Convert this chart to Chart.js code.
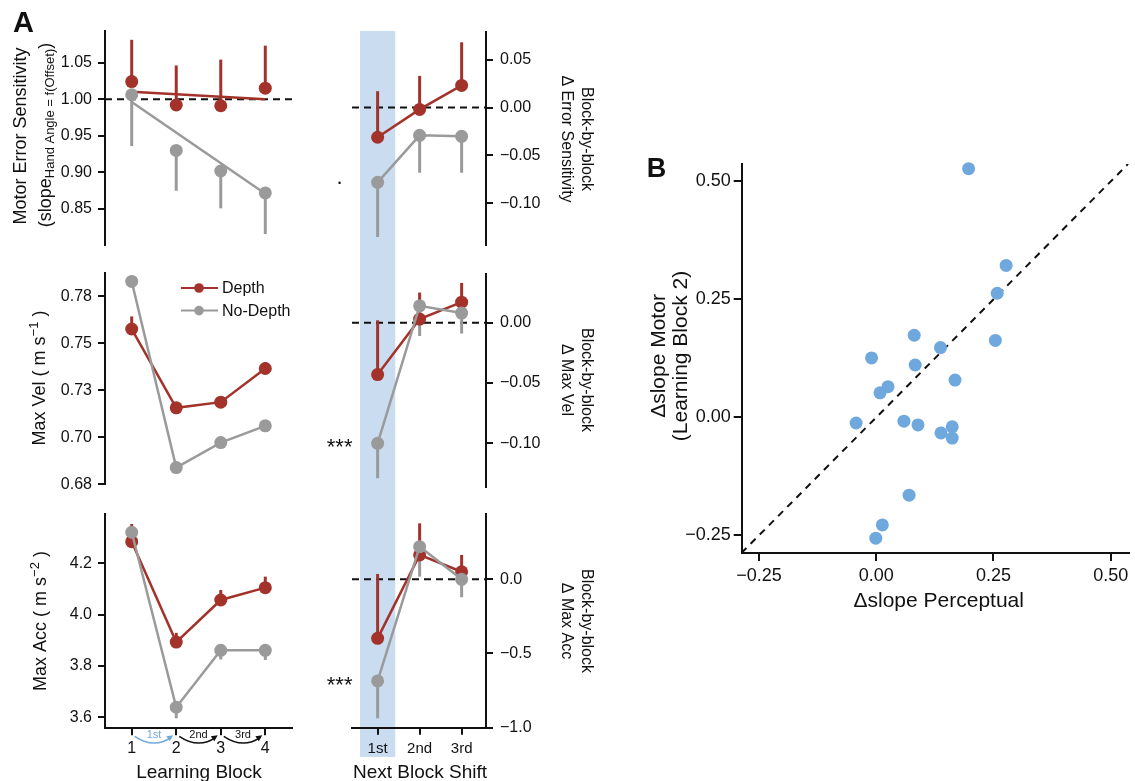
<!DOCTYPE html>
<html>
<head>
<meta charset="utf-8">
<script src="https://cdn.jsdelivr.net/npm/chart.js@4.4.0/dist/chart.umd.min.js"></script>
<style>
  html, body { margin: 0; padding: 0; background: #fff; }
  #wrap { position: relative; width: 1135px; height: 781px; overflow: hidden; }
  #wrap canvas { position: absolute; left: 0; top: 0; }
</style>
</head>
<body>
<div id="wrap"></div>
<script>
// ---- data ----
const blocks = [1, 2, 3, 4];
const shifts = [1, 2, 3];
const blockLabels = ['1', '2', '3', '4'];
const shiftLabels = ['1st', '2nd', '3rd'];
const arrowLabels = ['1st', '2nd', '3rd'];

// motor error sensitivity per learning block
const esDepth = [1.024, 0.992, 0.991, 1.015];
const esDepthHi = [1.081, 1.046, 1.054, 1.073];
const esNoDepth = [1.006, 0.930, 0.902, 0.872];
const esNoDepthLo = [0.936, 0.875, 0.851, 0.816];
const esFitBlocks = [1, 4];
const esFitDepth = [1.010, 1.000];
const esFitNoDepth = [0.996, 0.871];
const esTicks = [0.85, 0.90, 0.95, 1.00, 1.05];
const esTickLabels = ['0.85', '0.90', '0.95', '1.00', '1.05'];

// max velocity
const velDepth = [0.7576, 0.7157, 0.7187, 0.7366];
const velDepthHi = [0.7643, 0.7185, 0.7205, 0.7400];
const velNoDepth = [0.7829, 0.6839, 0.6972, 0.7061];
const velNoDepthLo = [0.7815, 0.6827, 0.6962, 0.7052];
const velTicks = [0.675, 0.700, 0.725, 0.750, 0.775];
const velTickLabels = ['0.68', '0.70', '0.73', '0.75', '0.78'];

// max acceleration
const accDepth = [4.284, 3.893, 4.057, 4.105];
const accDepthHi = [4.353, 3.929, 4.096, 4.148];
const accNoDepth = [4.321, 3.639, 3.861, 3.861];
const accNoDepthLo = [4.300, 3.596, 3.825, 3.823];
const accTicks = [3.6, 3.8, 4.0, 4.2];
const accTickLabels = ['3.6', '3.8', '4.0', '4.2'];

// block-by-block changes
const dEsDepth = [-0.031, -0.002, 0.023];
const dEsDepthHi = [0.017, 0.033, 0.068];
const dEsNoDepth = [-0.078, -0.029, -0.030];
const dEsNoDepthLo = [-0.135, -0.068, -0.068];
const dEsTicks = [-0.10, -0.05, 0.00, 0.05];
const dEsTickLabels = ['\u22120.10', '\u22120.05', '0.00', '0.05'];
const dEsSig = ['.', '', ''];

const dVelDepth = [-0.043, 0.003, 0.017];
const dVelDepthHi = [0.002, 0.025, 0.033];
const dVelNoDepth = [-0.100, 0.014, 0.008];
const dVelNoDepthLo = [-0.129, -0.011, -0.009];
const dVelTicks = [-0.10, -0.05, 0.00];
const dVelTickLabels = ['\u22120.10', '\u22120.05', '0.00'];
const dVelSig = ['***', '', ''];

const dAccDepth = [-0.398, 0.164, 0.051];
const dAccDepthHi = [0.036, 0.377, 0.164];
const dAccNoDepth = [-0.685, 0.220, 0.000];
const dAccNoDepthLo = [-0.937, 0.018, -0.121];
const dAccTicks = [-1.0, -0.5, 0.0];
const dAccTickLabels = ['\u22121.0', '\u22120.5', '0.0'];
const dAccSig = ['***', '', ''];

// panel B: per-participant slopes
const percSlope = [0.197, 0.277, 0.258, 0.254, 0.081, 0.137, -0.010, 0.083, 0.168, 0.025,
                   0.008, -0.043, 0.059, 0.089, 0.138, 0.162, 0.162, 0.070, 0.013, -0.001];
const motorSlope = [0.527, 0.322, 0.263, 0.163, 0.174, 0.148, 0.126, 0.111, 0.079, 0.065,
                    0.052, -0.012, -0.008, -0.016, -0.033, -0.020, -0.044, -0.165, -0.228, -0.256];
const bTicks = [-0.25, 0.00, 0.25, 0.50];
const bTickLabels = ['\u22120.25', '0.00', '0.25', '0.50'];

// ---- style ----
const W = 1135, H = 781;
const FONT = "'Liberation Sans', Arial, Helvetica, sans-serif";
const RED = '#a3322b', GRAY = '#9a9a9a', BLUE = '#6fa8dc', BAND = '#c9dcf0', INK = '#111';
const BAND_BOTTOM = 757;
const YBOX = 64, XBOX = 36;   // fixed axis box sizes (tick labels are clipped to them)
Chart.defaults.font.family = FONT;
Chart.defaults.color = INK;

const wrap = document.getElementById('wrap');

// padding so that the plot area lands exactly on `a`
function pad(a, scales) {
  const p = { left: a.l, top: a.t, right: W - a.r, bottom: H - a.b };
  Object.values(scales).forEach(s => {
    if (s.display === false) return;
    if (s.position === 'right') p.right -= YBOX;
    else if (s.position === 'left') p.left -= YBOX;
    else p.bottom -= XBOX;
  });
  return p;
}

function axis(o) {
  return {
    type: 'linear', min: o.min, max: o.max, display: o.display !== false,
    position: o.position || 'bottom',
    afterFit: s => {
      if (!s.options.display) return;
      if (s.isHorizontal()) s.height = XBOX; else s.width = YBOX;
    },
    afterBuildTicks: s => { s.ticks = o.ticks.map(v => ({ value: v })); },
    ticks: { autoSkip: false, maxRotation: 0, padding: o.pad, font: { size: o.size }, color: INK,
             callback: (v, i) => o.labels[i] },
    grid: { drawOnChartArea: false, drawTicks: true, tickLength: o.tl || 7, color: INK, lineWidth: 2 },
    border: { display: true, color: INK, width: 2 }
  };
}

function series(xs, ys, color, extra) {
  return Object.assign({
    data: xs.map((x, i) => ({ x: x, y: ys[i] })),
    borderColor: color, backgroundColor: color, pointBackgroundColor: color,
    pointBorderWidth: 0, pointRadius: 6.5, pointHoverRadius: 6.5, borderWidth: 2.5,
    showLine: true, clip: false
  }, extra);
}

// ---- plugins ----
const errorBars = {
  id: 'errorBars',
  beforeDatasetsDraw(chart) {
    const ctx = chart.ctx, ys = chart.scales.y;
    chart.data.datasets.forEach((ds, di) => {
      if (!ds.errEnd) return;
      const meta = chart.getDatasetMeta(di);
      ctx.save();
      ctx.strokeStyle = ds.borderColor;
      ctx.lineWidth = 3;
      meta.data.forEach((pt, i) => {
        ctx.beginPath();
        ctx.moveTo(pt.x, pt.y);
        ctx.lineTo(pt.x, ys.getPixelForValue(ds.errEnd[i]));
        ctx.stroke();
      });
      ctx.restore();
    });
  }
};

function refLine(value) {
  return {
    id: 'refLine',
    beforeDatasetsDraw(chart) {
      const { ctx, chartArea: a } = chart;
      const y = chart.scales.y.getPixelForValue(value);
      ctx.save();
      ctx.setLineDash([7, 5]);
      ctx.lineWidth = 2;
      ctx.strokeStyle = INK;
      ctx.beginPath(); ctx.moveTo(a.left, y); ctx.lineTo(a.right, y); ctx.stroke();
      ctx.restore();
    }
  };
}

function bandPlugin(from, to) {
  return {
    id: 'band',
    beforeDraw(chart) {
      const { ctx, chartArea: a } = chart, xs = chart.scales.x;
      const l = xs.getPixelForValue(from), r = xs.getPixelForValue(to);
      ctx.save();
      ctx.fillStyle = BAND;
      ctx.fillRect(l, a.top - 1, r - l, BAND_BOTTOM - a.top + 1);
      ctx.restore();
    }
  };
}

function sigPlugin(labels, dsIndex) {
  return {
    id: 'sig',
    afterDatasetsDraw(chart) {
      const ctx = chart.ctx, meta = chart.getDatasetMeta(dsIndex);
      labels.forEach((lab, i) => {
        if (!lab) return;
        const pt = meta.data[i];
        ctx.save();
        ctx.font = '22px ' + FONT;
        ctx.fillStyle = INK;
        ctx.textAlign = 'center';
        ctx.textBaseline = 'alphabetic';
        const m = ctx.measureText(lab);
        ctx.fillText(lab, pt.x - 38, pt.y + (m.actualBoundingBoxAscent - m.actualBoundingBoxDescent) / 2);
        ctx.restore();
      });
    }
  };
}

function legendPlugin(dx, dy, gap) {
  return {
    id: 'lineLegend',
    afterDraw(chart) {
      const { ctx, chartArea: a } = chart;
      chart.data.datasets.filter(d => d.label).forEach((d, i) => {
        const x = a.left + dx, y = a.top + dy + i * gap;
        ctx.save();
        ctx.strokeStyle = d.borderColor; ctx.fillStyle = d.borderColor; ctx.lineWidth = 2;
        ctx.beginPath(); ctx.moveTo(x, y); ctx.lineTo(x + 37, y); ctx.stroke();
        ctx.beginPath(); ctx.arc(x + 18, y, 4.8, 0, Math.PI * 2); ctx.fill();
        ctx.fillStyle = INK; ctx.font = '16px ' + FONT; ctx.textBaseline = 'middle';
        ctx.fillText(d.label, x + 41, y + 1);
        ctx.restore();
      });
    }
  };
}

function arrowsPlugin(labels, colors) {
  return {
    id: 'arrows',
    afterDraw(chart) {
      const { ctx, chartArea: a } = chart, xs = chart.scales.x;
      labels.forEach((lab, i) => {
        const x1 = xs.getPixelForValue(blocks[i]) + 3, x2 = xs.getPixelForValue(blocks[i + 1]) - 3;
        const y1 = a.bottom + 8, cy = a.bottom + 21, mx = (x1 + x2) / 2;
        ctx.save();
        ctx.strokeStyle = colors[i]; ctx.fillStyle = colors[i]; ctx.lineWidth = 1.6;
        ctx.beginPath(); ctx.moveTo(x1, y1); ctx.quadraticCurveTo(mx, cy, x2 - 2, y1 + 1); ctx.stroke();
        const ang = Math.atan2(y1 - cy, x2 - mx);
        ctx.beginPath(); ctx.moveTo(x2, y1 - 1);
        ctx.lineTo(x2 - 7 * Math.cos(ang - 0.45), y1 - 1 - 7 * Math.sin(ang - 0.45));
        ctx.lineTo(x2 - 7 * Math.cos(ang + 0.45), y1 - 1 - 7 * Math.sin(ang + 0.45));
        ctx.closePath(); ctx.fill();
        ctx.font = '11px ' + FONT; ctx.textAlign = 'center'; ctx.textBaseline = 'middle';
        ctx.fillText(lab, mx, a.bottom + 7);
        ctx.restore();
      });
    }
  };
}

const T = (t, size, dy, bold) => ({ t: t, size: size, dy: dy || 0, bold: bold });

function drawRich(ctx, it) {
  ctx.save();
  ctx.translate(it.x, it.y);
  ctx.rotate(it.rot || 0);
  ctx.textBaseline = 'alphabetic';
  ctx.textAlign = 'left';
  ctx.fillStyle = INK;
  let total = 0;
  const segs = it.segs.map(s => {
    const font = (s.bold ? 'bold ' : '') + s.size + 'px ' + FONT;
    ctx.font = font;
    const w = ctx.measureText(s.t).width;
    total += w;
    return { t: s.t, dy: s.dy, font: font, w: w };
  });
  let cx = it.align === 'left' ? 0 : -total / 2;
  segs.forEach(s => { ctx.font = s.font; ctx.fillText(s.t, cx, s.dy); cx += s.w; });
  ctx.restore();
}

function textsPlugin(items) {
  return { id: 'texts', afterDraw(chart) { items.forEach(it => drawRich(chart.ctx, it)); } };
}

function makeChart(area, scales, datasets, plugins) {
  const c = document.createElement('canvas');
  c.width = W; c.height = H;
  wrap.appendChild(c);
  return new Chart(c, {
    type: 'scatter',
    data: { datasets: datasets },
    options: {
      responsive: false, animation: false, events: [], devicePixelRatio: 1,
      layout: { padding: pad(area, scales) },
      scales: scales,
      plugins: { legend: { display: false }, tooltip: { enabled: false } }
    },
    plugins: plugins
  });
}

const UP = -Math.PI / 2, DOWN = Math.PI / 2;
const LX = { min: 0.4, max: 4.6 };
const MX = { min: 0.39, max: 3.58 };

// ---- middle column, top (also carries the highlight band) ----
makeChart({ l: 352, r: 486, t: 32, b: 245 }, {
  x: axis(Object.assign({ display: false, ticks: shifts, labels: shiftLabels }, MX)),
  y: axis({ min: -0.1433, max: 0.0787, ticks: dEsTicks, labels: dEsTickLabels, position: 'right', pad: 7, size: 16 })
}, [
  series(shifts, dEsDepth, RED, { errEnd: dEsDepthHi, order: 1 }),
  series(shifts, dEsNoDepth, GRAY, { errEnd: dEsNoDepthLo, order: 0 })
], [bandPlugin(0.58, 1.42), refLine(0), errorBars, sigPlugin(dEsSig, 1), textsPlugin([
  { segs: [T('Block-by-block', 16)], x: 582, y: 139, rot: DOWN },
  { segs: [T('\u0394 Error Sensitivity', 16)], x: 562, y: 139, rot: DOWN }
])]);

// ---- middle column, middle ----
makeChart({ l: 352, r: 486, t: 274, b: 487.3 }, {
  x: axis(Object.assign({ display: false, ticks: shifts, labels: shiftLabels }, MX)),
  y: axis({ min: -0.1365, max: 0.0404, ticks: dVelTicks, labels: dVelTickLabels, position: 'right', pad: 7, size: 16 })
}, [
  series(shifts, dVelDepth, RED, { errEnd: dVelDepthHi, order: 1 }),
  series(shifts, dVelNoDepth, GRAY, { errEnd: dVelNoDepthLo, order: 0 })
], [refLine(0), errorBars, sigPlugin(dVelSig, 1), textsPlugin([
  { segs: [T('Block-by-block', 16)], x: 582, y: 380, rot: DOWN },
  { segs: [T('\u0394 Max Vel', 16)], x: 562, y: 380, rot: DOWN }
])]);

// ---- middle column, bottom ----
makeChart({ l: 352, r: 486, t: 514, b: 727.7 }, {
  x: axis(Object.assign({ ticks: shifts, labels: shiftLabels, pad: 5, size: 15 }, MX)),
  y: axis({ min: -1.0, max: 0.44, ticks: dAccTicks, labels: dAccTickLabels, position: 'right', pad: 7, size: 16 })
}, [
  series(shifts, dAccDepth, RED, { errEnd: dAccDepthHi, order: 1 }),
  series(shifts, dAccNoDepth, GRAY, { errEnd: dAccNoDepthLo, order: 0 })
], [refLine(0), errorBars, sigPlugin(dAccSig, 1), textsPlugin([
  { segs: [T('Block-by-block', 16)], x: 582, y: 621, rot: DOWN },
  { segs: [T('\u0394 Max Acc', 16)], x: 562, y: 621, rot: DOWN },
  { segs: [T('Next Block Shift', 19)], x: 420, y: 777.5 }
])]);

// ---- left column, top ----
makeChart({ l: 105, r: 292, t: 31, b: 245 }, {
  x: axis(Object.assign({ display: false, ticks: blocks, labels: blockLabels }, LX)),
  y: axis({ min: 0.801, max: 1.093, ticks: esTicks, labels: esTickLabels, position: 'left', pad: 6, size: 16 })
}, [
  series(esFitBlocks, esFitDepth, RED, { pointRadius: 0, pointHoverRadius: 0, order: 3 }),
  series(esFitBlocks, esFitNoDepth, GRAY, { pointRadius: 0, pointHoverRadius: 0, order: 2 }),
  series(blocks, esDepth, RED, { showLine: false, errEnd: esDepthHi, order: 1 }),
  series(blocks, esNoDepth, GRAY, { showLine: false, errEnd: esNoDepthLo, order: 0 })
], [refLine(1.0), errorBars, textsPlugin([
  { segs: [T('A', 29, 0, true)], x: 13, y: 31.7, align: 'left' },
  { segs: [T('Motor Error Sensitivity', 18)], x: 26, y: 136, rot: UP },
  { segs: [T('(slope', 18), T('Hand Angle = f(Offset)', 13, 3), T(')', 18)], x: 51, y: 135, rot: UP }
])]);

// ---- left column, middle ----
makeChart({ l: 105, r: 292, t: 273, b: 484.3 }, {
  x: axis(Object.assign({ display: false, ticks: blocks, labels: blockLabels }, LX)),
  y: axis({ min: 0.675, max: 0.7874, ticks: velTicks, labels: velTickLabels, position: 'left', pad: 6, size: 16 })
}, [
  series(blocks, velDepth, RED, { label: 'Depth', errEnd: velDepthHi, order: 1 }),
  series(blocks, velNoDepth, GRAY, { label: 'No-Depth', errEnd: velNoDepthLo, order: 0 })
], [errorBars, legendPlugin(76, 15, 22.6), textsPlugin([
  { segs: [T('Max Vel ( m s', 18), T('\u22121', 13, -7), T(' )', 18)], x: 44.5, y: 378, rot: UP }
])]);

// ---- left column, bottom ----
makeChart({ l: 105, r: 292, t: 514, b: 728.3 }, {
  x: axis(Object.assign({ ticks: blocks, labels: blockLabels, pad: 4, size: 16 }, LX)),
  y: axis({ min: 3.557, max: 4.392, ticks: accTicks, labels: accTickLabels, position: 'left', pad: 6, size: 16 })
}, [
  series(blocks, accDepth, RED, { errEnd: accDepthHi, order: 1 }),
  series(blocks, accNoDepth, GRAY, { errEnd: accNoDepthLo, order: 0 })
], [errorBars, arrowsPlugin(arrowLabels, [BLUE, INK, INK]), textsPlugin([
  { segs: [T('Max Acc ( m s', 18), T('\u22122', 13, -7), T(' )', 18)], x: 45.5, y: 621, rot: UP },
  { segs: [T('Learning Block', 19)], x: 199, y: 778 }
])]);

// ---- panel B ----
const B_MIN = -0.2875, B_MAX = 0.538;
makeChart({ l: 741.7, r: 1131.7, t: 164, b: 553 }, {
  x: axis({ min: -0.287, max: B_MAX, ticks: bTicks, labels: bTickLabels, pad: 4, size: 18, tl: 8 }),
  y: axis({ min: B_MIN, max: 0.537, ticks: bTicks, labels: bTickLabels, position: 'left', pad: 3, size: 18, tl: 8 })
}, [
  {
    data: percSlope.map((x, i) => ({ x: x, y: motorSlope[i] })),
    backgroundColor: BLUE, pointBackgroundColor: BLUE, pointBorderWidth: 0,
    pointRadius: 6.5, pointHoverRadius: 6.5, showLine: false, clip: false, order: 0
  },
  {
    data: [{ x: B_MIN, y: B_MIN }, { x: B_MAX, y: B_MAX }],
    borderColor: INK, borderWidth: 2, borderDash: [7, 6], pointRadius: 0, pointHoverRadius: 0,
    showLine: true, order: 1
  }
], [textsPlugin([
  { segs: [T('B', 27, 0, true)], x: 646.7, y: 176.7, align: 'left' },
  { segs: [T('\u0394slope Motor', 21)], x: 665, y: 356, rot: UP },
  { segs: [T('(Learning Block 2)', 21)], x: 687, y: 356, rot: UP },
  { segs: [T('\u0394slope Perceptual', 21)], x: 938.7, y: 606.7 }
])]);
</script>
</body>
</html>
